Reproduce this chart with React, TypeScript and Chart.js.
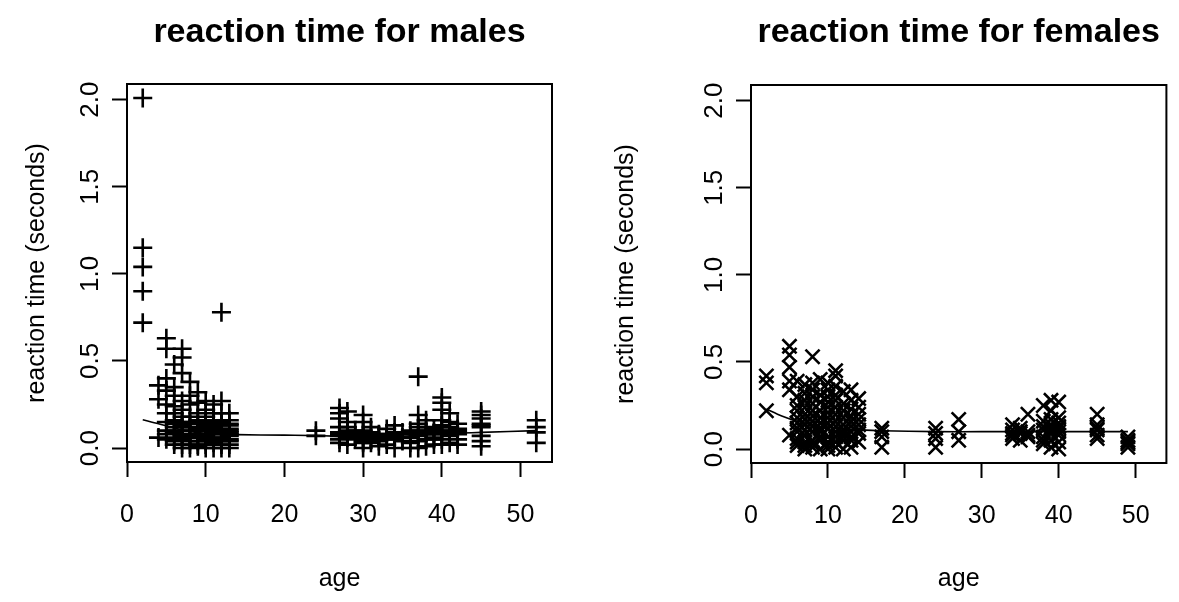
import React, { useEffect, useRef } from "react";
import { Chart, registerables } from "chart.js";

Chart.register(...registerables);

// ---------- data ----------
const maleAge = [
  2, 2, 2, 2, 2,
  4, 4, 4,
  5, 5, 5, 5, 5, 5, 5, 5, 5, 5,
  6, 6, 6, 6, 6, 6, 6, 6, 6, 6, 6, 6, 6,
  7, 7, 7, 7, 7, 7, 7, 7, 7, 7, 7, 7, 7, 7, 7,
  8, 8, 8, 8, 8, 8, 8, 8, 8, 8, 8, 8, 8, 8,
  9, 9, 9, 9, 9, 9, 9, 9, 9, 9, 9, 9, 9,
  10, 10, 10, 10, 10, 10, 10, 10, 10, 10, 10, 10, 10, 10,
  11, 11, 11, 11, 11, 11, 11, 11, 11, 11, 11, 11, 11,
  12, 12, 12, 12, 12, 12, 12, 12, 12, 12, 12, 12, 12,
  13, 13, 13, 13, 13, 13, 13, 13, 13, 13, 13, 13, 13,
  24, 24,
  27, 27, 27, 27, 27, 27, 27, 27, 27,
  28, 28, 28, 28, 28, 28, 28, 28,
  29, 29, 29,
  30, 30, 30, 30, 30, 30, 30, 30, 30,
  31, 31, 31, 31, 31,
  32, 32, 32, 32, 32,
  33, 33, 33, 33, 33,
  34, 34, 34, 34, 34, 34,
  35, 35, 35,
  36, 36, 36, 36, 36,
  37, 37, 37, 37, 37, 37, 37, 37, 37,
  38, 38, 38, 38, 38, 38, 38,
  39, 39, 39, 39, 39, 39,
  40, 40, 40, 40, 40, 40, 40, 40, 40, 40, 40,
  41, 41, 41, 41, 41, 41, 41,
  42, 42, 42, 42, 42, 42, 42,
  45, 45, 45, 45, 45, 45, 45, 45, 45,
  52, 52, 52, 52,
];
const maleRT = [
  2.01, 1.15, 1.04, 0.9, 0.72,
  0.36, 0.28, 0.06,
  0.63, 0.57, 0.4, 0.33, 0.25, 0.2, 0.15, 0.1, 0.08, 0.05,
  0.48, 0.35, 0.3, 0.24, 0.2, 0.16, 0.14, 0.12, 0.1, 0.09, 0.06, 0.04, 0.02,
  0.57, 0.52, 0.43, 0.27, 0.22, 0.18, 0.15, 0.13, 0.12, 0.1, 0.08, 0.07, 0.05, 0.02, 0.0,
  0.38, 0.3, 0.25, 0.18, 0.15, 0.14, 0.12, 0.1, 0.08, 0.07, 0.06, 0.04, 0.02, 0.0,
  0.32, 0.26, 0.2, 0.16, 0.14, 0.12, 0.11, 0.1, 0.08, 0.06, 0.04, 0.02, 0.01,
  0.27, 0.22, 0.18, 0.15, 0.14, 0.13, 0.11, 0.1, 0.08, 0.07, 0.05, 0.04, 0.02, 0.0,
  0.25, 0.2, 0.16, 0.14, 0.13, 0.12, 0.1, 0.09, 0.08, 0.06, 0.05, 0.03, 0.0,
  0.78, 0.27, 0.2, 0.15, 0.14, 0.13, 0.11, 0.1, 0.08, 0.06, 0.04, 0.02, 0.0,
  0.2, 0.16, 0.14, 0.13, 0.11, 0.1, 0.09, 0.08, 0.07, 0.05, 0.04, 0.02, 0.0,
  0.1, 0.07,
  0.23, 0.2, 0.17, 0.12, 0.09, 0.08, 0.07, 0.05, 0.03,
  0.21, 0.15, 0.12, 0.1, 0.09, 0.08, 0.06, 0.02,
  0.1, 0.07, 0.05,
  0.19, 0.15, 0.1, 0.09, 0.08, 0.06, 0.04, 0.03, 0.0,
  0.12, 0.09, 0.07, 0.05, 0.03,
  0.08, 0.07, 0.06, 0.04, 0.01,
  0.11, 0.08, 0.06, 0.05, 0.02,
  0.13, 0.09, 0.08, 0.07, 0.05, 0.0,
  0.09, 0.06, 0.04,
  0.1, 0.08, 0.06, 0.03, 0.0,
  0.41, 0.19, 0.14, 0.12, 0.1, 0.09, 0.07, 0.04, 0.0,
  0.16, 0.12, 0.1, 0.09, 0.08, 0.05, 0.01,
  0.11, 0.09, 0.08, 0.06, 0.05, 0.02,
  0.29, 0.26, 0.22, 0.16, 0.13, 0.12, 0.1, 0.09, 0.08, 0.05, 0.02,
  0.2, 0.15, 0.12, 0.1, 0.09, 0.07, 0.03,
  0.14, 0.11, 0.1, 0.09, 0.08, 0.05, 0.02,
  0.21, 0.19, 0.17, 0.14, 0.13, 0.12, 0.07, 0.04, 0.01,
  0.16, 0.12, 0.09, 0.03,
];
const maleFitAge = [2, 4, 6, 8, 10, 12, 14, 20, 24, 28, 32, 36, 40, 45, 52];
const maleFitRT = [0.163, 0.14, 0.115, 0.095, 0.085, 0.08, 0.077, 0.074, 0.072, 0.066, 0.062, 0.07, 0.082, 0.09, 0.1];

const femaleAge = [
  2, 2, 2,
  5, 5, 5, 5, 5, 5,
  6, 6, 6, 6, 6, 6, 6, 6, 6, 6, 6,
  7, 7, 7, 7, 7, 7, 7, 7, 7, 7, 7, 7,
  8, 8, 8, 8, 8, 8, 8, 8, 8, 8, 8, 8, 8,
  9, 9, 9, 9, 9, 9, 9, 9, 9, 9, 9,
  10, 10, 10, 10, 10, 10, 10, 10, 10, 10, 10, 10, 10,
  11, 11, 11, 11, 11, 11, 11, 11, 11, 11, 11, 11, 11,
  12, 12, 12, 12, 12, 12, 12, 12, 12, 12,
  13, 13, 13, 13, 13, 13, 13, 13, 13, 13,
  14, 14, 14, 14, 14, 14, 14, 14,
  17, 17, 17, 17,
  24, 24, 24, 24,
  27, 27, 27,
  34, 34, 34, 34, 34,
  35, 35, 35, 35,
  36, 36, 36, 36,
  38, 38, 38, 38, 38, 38, 38,
  39, 39, 39, 39, 39, 39, 39, 39, 39,
  40, 40, 40, 40, 40, 40, 40, 40, 40,
  45, 45, 45, 45, 45, 45,
  49, 49, 49, 49, 49,
];
const femaleRT = [
  0.42, 0.38, 0.22,
  0.59, 0.54, 0.47, 0.39, 0.34, 0.08,
  0.39, 0.3, 0.25, 0.22, 0.18, 0.15, 0.12, 0.1, 0.06, 0.04, 0.02,
  0.37, 0.32, 0.28, 0.24, 0.2, 0.17, 0.14, 0.11, 0.08, 0.04, 0.02, 0.0,
  0.53, 0.38, 0.34, 0.3, 0.26, 0.22, 0.19, 0.16, 0.13, 0.1, 0.05, 0.03, 0.01,
  0.4, 0.31, 0.27, 0.22, 0.18, 0.15, 0.12, 0.1, 0.07, 0.05, 0.0,
  0.38, 0.34, 0.3, 0.27, 0.24, 0.21, 0.18, 0.15, 0.12, 0.07, 0.04, 0.02, 0.0,
  0.45, 0.42, 0.36, 0.31, 0.28, 0.24, 0.2, 0.16, 0.13, 0.1, 0.07, 0.04, 0.01,
  0.33, 0.26, 0.22, 0.18, 0.14, 0.11, 0.09, 0.07, 0.05, 0.0,
  0.34, 0.28, 0.23, 0.19, 0.16, 0.13, 0.1, 0.07, 0.05, 0.01,
  0.29, 0.24, 0.2, 0.17, 0.14, 0.11, 0.09, 0.04,
  0.12, 0.1, 0.07, 0.01,
  0.12, 0.09, 0.06, 0.01,
  0.17, 0.1, 0.05,
  0.14, 0.11, 0.09, 0.08, 0.06,
  0.12, 0.1, 0.09, 0.05,
  0.2, 0.1, 0.08, 0.07,
  0.25, 0.16, 0.13, 0.11, 0.07, 0.05, 0.03,
  0.28, 0.22, 0.17, 0.14, 0.12, 0.11, 0.09, 0.05, 0.01,
  0.27, 0.18, 0.15, 0.13, 0.12, 0.1, 0.08, 0.04, 0.0,
  0.2, 0.14, 0.12, 0.11, 0.08, 0.06,
  0.07, 0.05, 0.04, 0.03, 0.01,
];
const femaleFitAge = [2, 4, 6, 8, 10, 12, 14, 17, 24, 30, 35, 40, 45, 49];
const femaleFitRT = [0.23, 0.19, 0.16, 0.14, 0.125, 0.115, 0.11, 0.105, 0.1, 0.1, 0.1, 0.1, 0.1, 0.1];

const xTickValues = [0, 10, 20, 30, 40, 50];
const yTickValues = [0, 0.5, 1.0, 1.5, 2.0];
const xLimits = [0, 54];
const yLimits = [-0.08, 2.09];

const titles = ["reaction time for males", "reaction time for females"];
const xLabel = "age";
const yLabel = "reaction time (seconds)";

// ---------- styling ----------
const FONT = "'Liberation Sans', Arial, Helvetica, sans-serif";
const H = 602;

const boxPlugin = {
  id: "rbox",
  afterDraw(chart: any) {
    const { ctx, chartArea: a } = chart;
    ctx.save();
    ctx.strokeStyle = "#000";
    ctx.lineWidth = 2;
    ctx.strokeRect(a.left, a.top, a.right - a.left, a.bottom - a.top);
    ctx.restore();
  },
};

function toPoints(xs: number[], ys: number[]) {
  return xs.map((x, i) => ({ x, y: ys[i] }));
}

type PanelProps = {
  left: number;
  width: number;
  area: { l: number; r: number; t: number; b: number };
  title: string;
  ages: number[];
  rts: number[];
  fitAges: number[];
  fitRts: number[];
  marker: string;
  radius: number;
};

function Panel(p: PanelProps) {
  const ref = useRef<HTMLCanvasElement | null>(null);
  useEffect(() => {
    if (!ref.current) return;
    const titleLH = 34 * 1.2;
    const titlePadTop = 12;
    const chart = new Chart(ref.current, {
      type: "scatter",
      data: {
        datasets: [
          {
            data: toPoints(p.ages, p.rts),
            pointStyle: p.marker as any,
            pointRadius: p.radius,
            pointBorderWidth: 2.6,
            borderColor: "#000",
            backgroundColor: "#000",
            showLine: false,
          },
          {
            data: toPoints(p.fitAges, p.fitRts),
            showLine: true,
            pointRadius: 0,
            borderColor: "#000",
            borderWidth: 1.6,
            tension: 0.3,
          },
        ],
      },
      options: {
        responsive: false,
        animation: false,
        devicePixelRatio: 1,
        layout: { padding: { left: 0, right: p.width - p.area.r, top: 0, bottom: 0 } },
        plugins: {
          legend: { display: false },
          tooltip: { enabled: false },
          title: {
            display: true,
            text: p.title,
            fullSize: false,
            color: "#000",
            font: { family: FONT, size: 34, weight: "bold" },
            padding: { top: titlePadTop, bottom: p.area.t - titleLH - titlePadTop },
          },
        },
        scales: {
          x: {
            type: "linear",
            min: xLimits[0],
            max: xLimits[1],
            afterFit: (s: any) => {
              s.height = H - p.area.b;
            },
            afterBuildTicks: (s: any) => {
              s.ticks = xTickValues.map((v) => ({ value: v }));
            },
            ticks: {
              color: "#000",
              font: { family: FONT, size: 25 },
              padding: 23,
              maxRotation: 0,
              minRotation: 0,
              callback: (v: any) => String(v),
            },
            grid: {
              display: true,
              drawOnChartArea: false,
              drawTicks: true,
              tickLength: 15,
              tickWidth: 2,
              tickColor: "#000",
            },
            border: { display: true, color: "#000", width: 2 },
            title: {
              display: true,
              text: xLabel,
              color: "#000",
              font: { family: FONT, size: 25 },
              padding: { top: 0, bottom: 8 },
            },
          },
          y: {
            type: "linear",
            min: yLimits[0],
            max: yLimits[1],
            afterFit: (s: any) => {
              s.width = p.area.l;
            },
            afterBuildTicks: (s: any) => {
              s.ticks = yTickValues.map((v) => ({ value: v }));
            },
            ticks: {
              color: "#000",
              font: { family: FONT, size: 26 },
              padding: 3,
              minRotation: 90,
              maxRotation: 90,
              crossAlign: "center",
              callback: (v: any) => Number(v).toFixed(1),
            },
            grid: {
              display: true,
              drawOnChartArea: false,
              drawTicks: true,
              tickLength: 15,
              tickWidth: 2,
              tickColor: "#000",
            },
            border: { display: true, color: "#000", width: 2 },
            title: {
              display: true,
              text: yLabel,
              color: "#000",
              font: { family: FONT, size: 25 },
              padding: { top: 22, bottom: 0 },
            },
          },
        },
      },
      plugins: [boxPlugin],
    } as any);
    return () => chart.destroy();
  }, []);
  return (
    <canvas
      ref={ref}
      width={p.width}
      height={H}
      style={{ position: "absolute", left: p.left, top: 0, width: p.width, height: H }}
    />
  );
}

export default function App() {
  return (
    <div
      style={{
        position: "fixed",
        left: 0,
        top: 0,
        width: 1179,
        height: H,
        background: "#fff",
        overflow: "hidden",
      }}
    >
      <Panel
        left={0}
        width={589}
        area={{ l: 127, r: 552, t: 84, b: 462 }}
        title={titles[0]}
        ages={maleAge}
        rts={maleRT}
        fitAges={maleFitAge}
        fitRts={maleFitRT}
        marker="cross"
        radius={9.5}
      />
      <Panel
        left={589}
        width={590}
        area={{ l: 162, r: 584, t: 85, b: 463 }}
        title={titles[1]}
        ages={femaleAge}
        rts={femaleRT}
        fitAges={femaleFitAge}
        fitRts={femaleFitRT}
        marker="crossRot"
        radius={10}
      />
    </div>
  );
}
